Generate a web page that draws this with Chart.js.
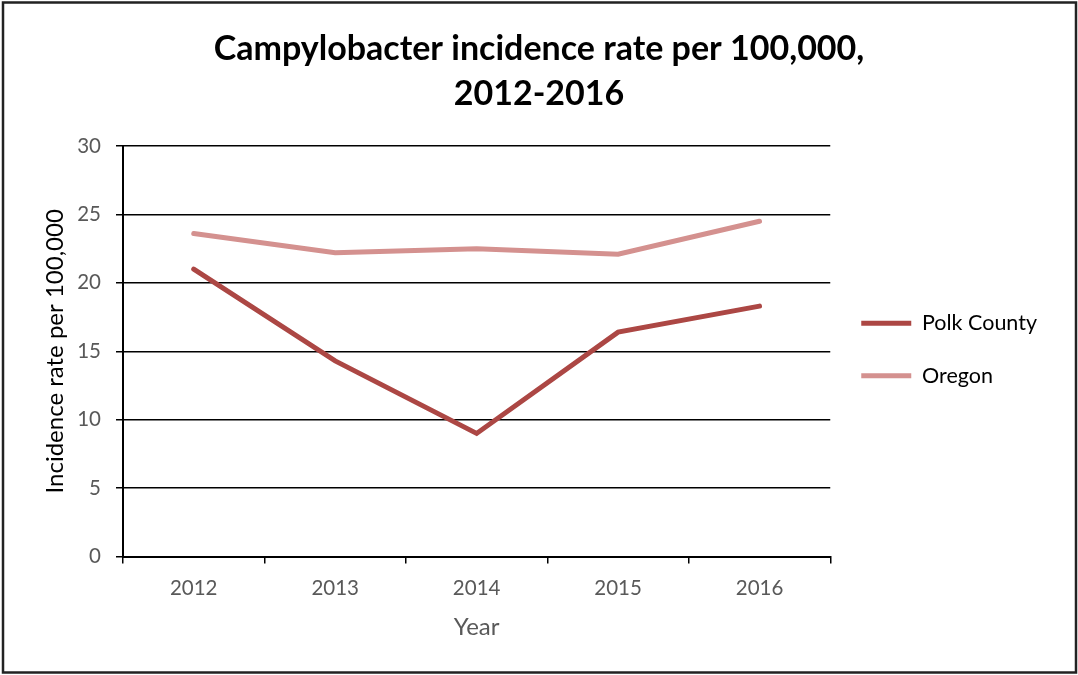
<!DOCTYPE html>
<html>
<head>
<meta charset="utf-8">
<script src="https://cdn.jsdelivr.net/npm/chart.js@4/dist/chart.umd.min.js"></script>
<style>
  html, body { margin: 0; padding: 0; background: #fff; }
  #wrap { width: 1078px; height: 675px; position: relative; }
</style>
</head>
<body>
<div id="wrap"><canvas id="chart" width="1078" height="675"></canvas></div>
<script>
// ── Data ─────────────────────────────────────────────────────
const years      = ['2012', '2013', '2014', '2015', '2016'];
const polkCounty = [21.0, 14.3, 9.0, 16.4, 18.3];
const oregon     = [23.6, 22.2, 22.5, 22.1, 24.5];
const titleLines = ['Campylobacter incidence rate per 100,000,', '2012-2016'];

const FONT  = 'Lato, "Open Sans", sans-serif';
const GRAY  = '#595959';
const SIDE  = 31;   // equal side padding keeps the title centred on the page

// outer frame round the whole chart
const framePlugin = {
  id: 'frame',
  afterDraw(chart) {
    const c = chart.ctx;
    c.save();
    c.strokeStyle = '#222';
    c.lineWidth = 2.5;
    c.strokeRect(3, 2.5, 1073, 670);
    c.restore();
  }
};

new Chart(document.getElementById('chart'), {
  type: 'line',
  data: {
    labels: years,
    datasets: [
      { label: 'Polk County', data: polkCounty, borderColor: '#AC4744', backgroundColor: '#AC4744',
        borderWidth: 5, borderCapStyle: 'round', borderJoinStyle: 'miter', pointRadius: 0, tension: 0 },
      { label: 'Oregon', data: oregon, borderColor: '#D4918F', backgroundColor: '#D4918F',
        borderWidth: 5, borderCapStyle: 'round', borderJoinStyle: 'miter', pointRadius: 0, tension: 0 }
    ]
  },
  options: {
    responsive: false,
    animation: false,
    layout: { padding: { top: 27, right: SIDE, bottom: 33, left: SIDE } },
    plugins: {
      title: {
        display: true,
        text: titleLines,
        color: '#000',
        font: { family: FONT, size: 34, weight: 'bold', lineHeight: '45px' },
        padding: { top: 0, bottom: 29 }
      },
      legend: {
        position: 'right',
        align: 'center',
        title: { display: true, text: ' ', font: { size: 10, lineHeight: 1 }, padding: { top: 0, bottom: 20 } },
        labels: {
          usePointStyle: true,
          pointStyle: 'line',
          pointStyleWidth: 50,
          boxHeight: 20,
          color: '#000',
          padding: 31,
          font: { family: FONT, size: 21.5 }
        }
      },
      tooltip: { enabled: false }
    },
    scales: {
      x: {
        offset: true,
        grid: { offset: true, drawOnChartArea: false, drawTicks: true, tickLength: 7, color: '#000', lineWidth: 1.5 },
        border: { color: '#000', width: 2 },
        ticks: { color: GRAY, padding: 12, font: { family: FONT, size: 20.5 } },
        title: { display: true, text: 'Year', color: GRAY, padding: { top: 1, bottom: 0 }, font: { family: FONT, size: 24 } }
      },
      y: {
        min: 0, max: 30,
        afterFit(scale) { scale.width = 123 - SIDE; },
        grid: { color: '#000', lineWidth: 1.5, tickLength: 7 },
        border: { color: '#000', width: 2 },
        ticks: { stepSize: 5, color: GRAY, padding: 15, font: { family: FONT, size: 20.5 } },
        title: { display: true, text: 'Incidence rate per 100,000', color: '#000', padding: { top: 10, bottom: 0 }, font: { family: FONT, size: 24 } }
      }
    }
  },
  plugins: [framePlugin]
});
</script>
</body>
</html>
